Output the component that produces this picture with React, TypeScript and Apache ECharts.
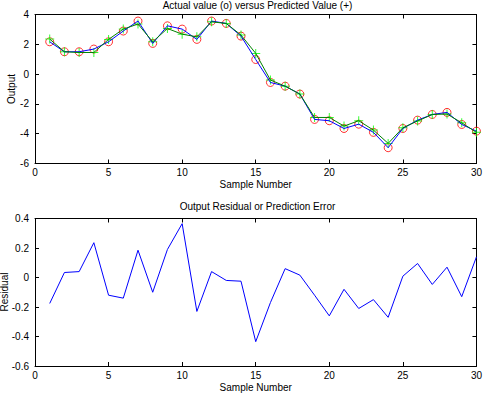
import React, { useEffect, useRef } from "react";
import * as echarts from "echarts";

const samples = [1, 2, 3, 4, 5, 6, 7, 8, 9, 10, 11, 12, 13, 14, 15, 16, 17, 18, 19, 20, 21, 22, 23, 24, 25, 26, 27, 28, 29, 30];
const actual = [2.17, 1.5, 1.5, 1.68, 2.17, 2.89, 3.56, 2.06, 3.24, 3.02, 2.33, 3.56, 3.4, 2.55, 0.98, -0.56, -0.81, -1.34, -3.04, -3.13, -3.65, -3.36, -3.91, -4.94, -3.65, -3.09, -2.71, -2.57, -3.38, -3.83];
const predicted = [2.35, 1.5, 1.45, 1.45, 2.33, 3.02, 3.36, 2.17, 3.06, 2.68, 2.5, 3.51, 3.4, 2.62, 1.39, -0.4, -0.81, -1.34, -2.91, -2.91, -3.49, -3.13, -3.76, -4.65, -3.6, -3.15, -2.71, -2.68, -3.27, -3.91];
const residual = [-0.176, 0.034, 0.04, 0.236, -0.12, -0.14, 0.185, -0.1, 0.19, 0.365, -0.23, 0.04, -0.02, -0.025, -0.435, -0.17, 0.06, 0.016, -0.12, -0.26, -0.08, -0.21, -0.15, -0.27, 0.009, 0.095, -0.047, 0.07, -0.13, 0.14];

const topTitle = "Actual value (o) versus Predicted Value (+)";
const bottomTitle = "Output Residual or Prediction Error";
const xName = "Sample Number";
const topYName = "Output";
const bottomYName = "Residual";

const FONT = "Liberation Sans, Arial, Helvetica, sans-serif";

export default function App() {
  const ref = useRef<HTMLDivElement>(null);
  useEffect(() => {
    if (!ref.current) return;
    const chart = echarts.init(ref.current, null, { renderer: "svg" });
    const axisLine = { show: true, onZero: false, lineStyle: { color: "#000", width: 1 } };
    const tick = { show: true, inside: true, length: 4, lineStyle: { color: "#000" } };
    const label = { color: "#000", fontSize: 10, fontFamily: FONT };
    const nameStyle = { color: "#000", fontSize: 10, fontFamily: FONT };
    const xBottom = (gi: number) => ({
      type: "value", gridIndex: gi, min: 0, max: 30, interval: 5, position: "bottom",
      axisLine, axisTick: tick, axisLabel: { ...label, margin: 4 }, splitLine: { show: false },
      name: xName, nameLocation: "middle", nameGap: 16, nameTextStyle: nameStyle,
    });
    const xTop = (gi: number) => ({
      type: "value", gridIndex: gi, min: 0, max: 30, interval: 5, position: "top",
      axisLine, axisTick: tick, axisLabel: { show: false }, splitLine: { show: false },
    });
    const yRight = (gi: number, min: number, max: number, interval: number) => ({
      type: "value", gridIndex: gi, min, max, interval, position: "right",
      axisLine, axisTick: tick, axisLabel: { show: false }, splitLine: { show: false },
    });
    const yName = (text: string, x: number, y: number) => ({
      type: "text", x, y, rotation: Math.PI / 2,
      style: { text, fill: "#000", font: `10px ${FONT}`, textAlign: "center", textVerticalAlign: "middle" },
    });
    const option: any = {
      animation: false,
      backgroundColor: "#fff",
      textStyle: { fontFamily: FONT },
      title: [
        { text: topTitle, left: 257.5, top: 0, textAlign: "center", padding: 0,
          textStyle: { fontSize: 10, fontWeight: "normal", color: "#000", fontFamily: FONT } },
        { text: bottomTitle, left: 257.5, top: 201, textAlign: "center", padding: 0,
          textStyle: { fontSize: 10, fontWeight: "normal", color: "#000", fontFamily: FONT } },
      ],
      graphic: [yName(topYName, 11, 89), yName(bottomYName, 4, 292)],
      grid: [
        { left: 35, top: 14.5, width: 445, height: 149 },
        { left: 35, top: 218.5, width: 445, height: 148 },
      ],
      xAxis: [xBottom(0), xTop(0), xBottom(1), xTop(1)],
      yAxis: [
        { type: "value", gridIndex: 0, min: -6, max: 4, interval: 2, position: "left",
          axisLine, axisTick: tick, axisLabel: { ...label, margin: 6 }, splitLine: { show: false } },
        yRight(0, -6, 4, 2),
        { type: "value", gridIndex: 1, min: -0.6, max: 0.4, interval: 0.2, position: "left",
          axisLine, axisTick: tick, axisLabel: { ...label, margin: 6 }, splitLine: { show: false } },
        yRight(1, -0.6, 0.4, 0.2),
      ],
      series: [
        { type: "scatter", xAxisIndex: 0, yAxisIndex: 0, symbol: "circle", symbolSize: 8,
          itemStyle: { color: "transparent", borderColor: "#ff0000", borderWidth: 1 },
          data: samples.map((s, i) => [s, actual[i]]) },
        { type: "scatter", xAxisIndex: 0, yAxisIndex: 0,
          symbol: "path://M4,0H5V4H9V5H5V9H4V5H0V4H4Z", symbolSize: 9,
          itemStyle: { color: "#00ff00" },
          data: samples.map((s, i) => [s, predicted[i]]) },
        { type: "line", xAxisIndex: 0, yAxisIndex: 0, showSymbol: false, symbol: "none",
          lineStyle: { color: "#0000ff", width: 1 },
          data: samples.map((s, i) => [s, actual[i]]) },
        { type: "line", xAxisIndex: 0, yAxisIndex: 0, showSymbol: false, symbol: "none",
          lineStyle: { color: "#008000", width: 1 },
          data: samples.map((s, i) => [s, predicted[i]]) },
        { type: "line", xAxisIndex: 2, yAxisIndex: 2, showSymbol: false, symbol: "none",
          lineStyle: { color: "#0000ff", width: 1 },
          data: samples.map((s, i) => [s, residual[i]]) },
      ],
    };
    chart.setOption(option);
    return () => chart.dispose();
  }, []);
  return (
    <div
      ref={ref}
      style={{ position: "absolute", left: 0, top: 0, width: 485, height: 393, background: "#fff" }}
    />
  );
}
